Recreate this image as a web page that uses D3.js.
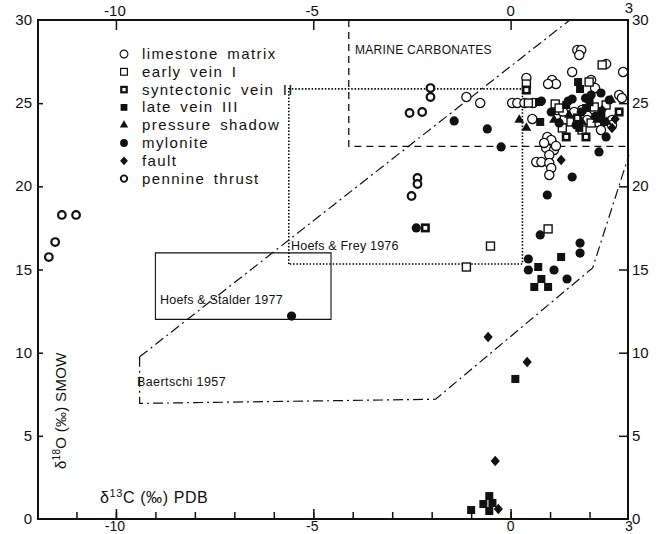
<!DOCTYPE html>
<html><head><meta charset="utf-8">
<script src="https://cdn.jsdelivr.net/npm/d3@7"></script>
<style>
body{margin:0;background:#fff;}
text{font-family:"Liberation Sans",Arial,sans-serif;fill:#111;}
</style></head>
<body><svg id="c" width="663" height="534"></svg>
<script>
// ---------- data (δ13C ‰ PDB, δ18O ‰ SMOW) ----------
const limestone = [[-1.12,25.37],[-0.77,25.01],[0.04,25.01],[0.17,25.01],[0.35,25.01],[0.57,25.01],[0.55,24.05],[0.40,26.51],
 [1.69,28.20],[1.79,28.20],[1.74,27.90],[1.56,26.87],[2.42,27.36],[2.85,26.87],[1.05,26.39],[1.15,26.15],[0.95,26.15],
 [2.14,25.91],[2.04,26.39],[2.75,25.49],[2.82,25.31],[1.18,24.59],[1.33,24.47],[1.81,24.59],[2.22,24.47],[1.56,23.99],
 [1.94,23.99],[2.57,23.99],[2.19,23.87],[1.61,24.47],[1.28,23.81],[2.29,23.39],[2.57,23.69],[2.12,24.59],
 [0.93,22.97],[1.05,22.61],[0.90,22.31],[1.10,22.18],[0.98,21.88],[0.65,21.46],[0.78,21.46],[0.98,21.40],[1.03,21.10],
 [0.98,20.68],[1.03,22.79],[1.15,22.43],[0.85,22.61]];
const earlyVein = [[-0.51,16.41],[-1.12,15.15],[0.95,17.44],[0.40,26.15],[0.45,25.01],[2.32,27.30],[1.99,26.27],[1.13,24.95],
 [2.12,24.77],[2.42,24.89],[1.36,23.99],[2.04,23.81],[1.31,23.51],[1.81,23.39],[1.23,24.71],[1.53,23.87]];
const syntVein = [[-2.16,17.50],[0.40,25.79],[2.75,24.47],[1.91,22.97],[1.41,22.97],[1.69,24.11]];
const lateVein = [[1.28,15.75],[0.70,15.15],[0.78,14.43],[0.60,13.95],[0.95,13.95],[0.12,8.42],
 [-0.54,1.38],[-0.69,0.90],[-0.46,0.96],[-0.54,0.48],[-1.00,0.54],
 [0.75,23.87],[1.71,26.27],[1.76,25.85],[1.41,24.89],[1.91,24.71],[1.74,23.51],[0.72,25.07],[2.00,25.05],[2.30,24.30]];
const pressureShadow = [[0.22,23.99],[0.40,23.51],[1.10,23.99],[1.81,23.87],[2.19,23.99],[2.55,25.19],[2.44,23.87],[1.48,24.29]];
const mylonite = [[-5.55,12.2],[-2.39,17.50],[-1.43,23.93],[-0.59,23.45],[-0.24,22.37],[0.78,25.13],[1.56,25.25],[1.46,25.13],
 [2.04,25.49],[2.29,25.61],[1.03,24.47],[1.66,23.69],[2.37,23.87],[1.79,24.47],[2.50,25.19],[2.42,22.97],[2.24,22.07],
 [1.56,20.56],[0.93,19.48],[0.75,17.08],[1.76,16.59],[1.76,15.99],[0.45,15.63],[0.45,14.97],[1.10,14.97],[1.43,14.43],[1.23,23.81],
 [1.90,25.30],[2.15,24.20]];
const fault = [[-0.57,10.94],[0.42,9.44],[-0.39,3.49],[-0.31,0.60],[1.28,21.58],[2.57,23.51],[2.32,24.59],[2.65,24.05]];
const pennine = [[-11.70,15.75],[-11.54,16.65],[-11.37,18.28],[-11.01,18.28],
 [-2.03,25.91],[-2.03,25.37],[-2.56,24.41],[-2.24,24.47],[-2.36,20.50],[-2.36,20.14],[-2.51,19.42]];

const legendLabels = ["limestone matrix","early vein I","syntectonic vein II","late vein III","pressure shadow","mylonite","fault","pennine thrust"];

// reference fields
const marineCarb = [[-4.1,30],[-4.1,22.4],[3,22.4]];
const hoefsFrey = [[-5.62,15.33],[-5.62,25.86],[0.3,25.86],[0.3,15.33],[-5.62,15.33]];
const hoefsStalder = [[-9,12],[-9,16],[-4.55,16],[-4.55,12]];
const baertschiUpper = [[-9.4,9.75],[1.5,30]];
const baertschiLower = [[-9.4,9.75],[-9.4,6.95],[-1.9,7.2],[2.08,15.1],[3,21.9]];

const xTicksLabeled = [-10,-5,0,3];
const xMinor = d3.range(-11,3,1);
const yTicks = [0,5,10,15,20,25,30];

// ---------- drawing ----------
const svg = d3.select("#c");
const x = d3.scaleLinear().domain([-12,3]).range([37,629]);
const y = d3.scaleLinear().domain([0,30]).range([519,20]);
const line = d3.line().x(d=>x(d[0])).y(d=>y(d[1]));

// reference regions
svg.append("path").attr("d",line(marineCarb)).attr("fill","none").attr("stroke","#111").attr("stroke-width",1.3).attr("stroke-dasharray","7,5");
svg.append("path").attr("d",line(hoefsFrey)).attr("fill","none").attr("stroke","#000").attr("stroke-width",1.6).attr("stroke-dasharray","1.5,1.8");
svg.append("path").attr("d",line(hoefsStalder)+"Z").attr("fill","none").attr("stroke","#111").attr("stroke-width",1.1);
svg.append("path").attr("d",line(baertschiUpper)).attr("fill","none").attr("stroke","#111").attr("stroke-width",1.2).attr("stroke-dasharray","10,4,2,4");
svg.append("path").attr("d",line(baertschiLower)).attr("fill","none").attr("stroke","#111").attr("stroke-width",1.2).attr("stroke-dasharray","10,4,2,4");

const note = (t,px,py,fs,ls)=>svg.append("text").attr("x",px).attr("y",py).attr("font-size",fs).attr("letter-spacing",ls||0).text(t);
note("MARINE CARBONATES",355,54,12,0.3);
note("Hoefs & Frey 1976",291,250,12.5,0.2);
note("Hoefs & Stalder 1977",160,304,12.5,0.2);
note("Baertschi 1957",137,386,12.5,0.4);

// frame
svg.append("rect").attr("x",x(-12)+1).attr("y",y(30)).attr("width",x(3)-x(-12)-2).attr("height",y(0)-y(30))
  .attr("fill","none").attr("stroke","#111").attr("stroke-width",2);

// axes (ticks inward)
const axT = d3.axisBottom(x).tickValues([-10,-5,0]).tickSize(10).tickFormat("");
svg.append("g").attr("transform",`translate(0,${y(30)})`).call(axT).call(g=>g.select(".domain").remove());
const axB = d3.axisTop(x).tickValues(xMinor).tickSize(7).tickFormat("");
svg.append("g").attr("transform",`translate(0,${y(0)})`).call(axB).call(g=>g.select(".domain").remove());
const axB2 = d3.axisTop(x).tickValues([-10,-5,0]).tickSize(10).tickFormat("");
svg.append("g").attr("transform",`translate(0,${y(0)})`).call(axB2).call(g=>g.select(".domain").remove());
const axL = d3.axisRight(y).tickValues([5,10,15,20,25]).tickSize(6).tickFormat("");
svg.append("g").attr("transform",`translate(${x(-12)},0)`).call(axL).call(g=>g.select(".domain").remove());
const axR = d3.axisLeft(y).tickValues([5,10,15,20,25]).tickSize(9).tickFormat("");
svg.append("g").attr("transform",`translate(${x(3)-1},0)`).call(axR).call(g=>g.select(".domain").remove());
svg.selectAll(".tick line").attr("stroke","#111").attr("stroke-width",1.5);

const lab = (t,px,py,anchor,fs)=>svg.append("text").attr("x",px).attr("y",py).attr("font-size",fs||15).attr("text-anchor",anchor).text(t);
xTicksLabeled.forEach(v=>{
  lab(v<0?"-"+Math.abs(v):String(v), x(v)+(v<0?-1:0), v===3?13:16, "middle");
  lab(v<0?"-"+Math.abs(v):String(v), x(v)+(v<0?-1:0), 531, "middle", 14);
});
yTicks.forEach(v=>{
  lab(String(v), 32, y(v)+5, "end");
  lab(String(v), 632, y(v)+5, "start");
});

// axis titles
const yt = svg.append("text").attr("transform",`translate(66,${y(3)}) rotate(-90)`).attr("font-size",15).attr("letter-spacing",0.3);
yt.append("tspan").text("δ");
yt.append("tspan").attr("font-size",10).attr("dy",-6).text("18");
yt.append("tspan").attr("dy",6).text("O (‰) SMOW");
const xt = svg.append("text").attr("x",100).attr("y",503).attr("font-size",16).attr("letter-spacing",0.6);
xt.append("tspan").text("δ");
xt.append("tspan").attr("font-size",11).attr("dy",-6).text("13");
xt.append("tspan").attr("dy",6).text("C (‰) PDB");

// markers
function draw(sel, kind){
  sel.each(function(){
    const g = d3.select(this);
    switch(kind){
      case "lime": g.append("circle").attr("r",4.6).attr("fill","#fff").attr("stroke","#111").attr("stroke-width",1.3); break;
      case "early": g.append("rect").attr("x",-4).attr("y",-4).attr("width",8).attr("height",8).attr("fill","#fff").attr("stroke","#111").attr("stroke-width",1.4); break;
      case "synt": g.append("rect").attr("x",-3.2).attr("y",-3.2).attr("width",6.4).attr("height",6.4).attr("fill","#fff").attr("stroke","#111").attr("stroke-width",2.6); break;
      case "late": g.append("rect").attr("x",-4).attr("y",-4).attr("width",8).attr("height",8).attr("fill","#111"); break;
      case "press": g.append("path").attr("d",d3.symbol(d3.symbolTriangle,42)()).attr("fill","#111"); break;
      case "myl": g.append("circle").attr("r",4.6).attr("fill","#111"); break;
      case "fault": g.append("path").attr("d","M0,-5.2L4.6,0L0,5.2L-4.6,0Z").attr("fill","#111"); break;
      case "pen": g.append("circle").attr("r",3.8).attr("fill","#fff").attr("stroke","#111").attr("stroke-width",2.2); break;
    }
  });
}
const sets = [[limestone,"lime"],[earlyVein,"early"],[syntVein,"synt"],[lateVein,"late"],[pressureShadow,"press"],[mylonite,"myl"],[fault,"fault"],[pennine,"pen"]];
sets.forEach(([data,kind])=>{
  svg.append("g").selectAll("g").data(data).join("g")
    .attr("transform",d=>`translate(${x(d[0])},${y(d[1])})`).call(s=>draw(s,kind));
});

// legend
const kinds = ["lime","early","synt","late","press","myl","fault","pen"];
const lg = svg.append("g");
legendLabels.forEach((t,i)=>{
  const yy = 54 + i*17.8;
  const m = lg.append("g").attr("transform",`translate(124,${yy}) scale(0.85)`);
  draw(m,kinds[i]);
  lg.append("text").attr("x",142).attr("y",yy+5).attr("font-size",15).attr("letter-spacing",1.4).attr("word-spacing",3).text(t);
});
</script></body></html>
